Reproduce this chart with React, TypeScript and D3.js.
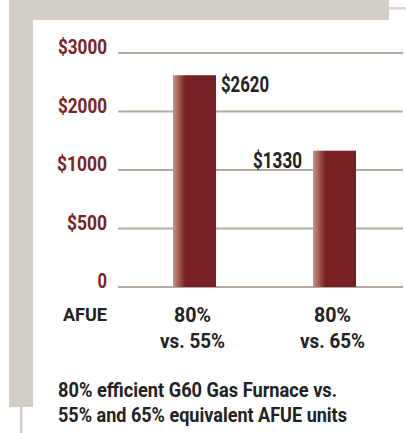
import React from "react";
import * as d3 from "d3";

const categories = ["80% vs. 55%", "80% vs. 65%"];
const categoryLines = [["80%", "vs. 55%"], ["80%", "vs. 65%"]];
const values = [2620, 1330];
const valueLabels = ["$2620", "$1330"];
const labelSides = ["right", "left"];
const tickValues = [0, 500, 1000, 2000, 3000];
const tickLabels = ["0", "$500", "$1000", "$2000", "$3000"];
const axisTitle = "AFUE";
const footerLines = ["80% efficient G60 Gas Furnace vs.", "55% and 65% equivalent AFUE units"];

// rendered widths of the condensed face used in the original (style only)
const TEXT_WIDTH: Record<string, number> = {
  "0": 9.5,
  "$500": 40,
  "$1000": 50,
  "$2000": 49,
  "$3000": 49,
  "$2620": 48,
  "$1330": 49,
  AFUE: 44,
  "80%": 37,
  "vs. 55%": 65,
  "vs. 65%": 65,
  "80% efficient G60 Gas Furnace vs.": 279,
  "55% and 65% equivalent AFUE units": 289,
};

const W = 406;
const H = 433;
const FONT = "Roboto, 'Noto Sans', Arial, sans-serif";
const RED = "#7a2227";
const BAR = "#772024";
const FRAME = "#d3cec8";
const GRID = "#b3aaa2";

function CText(props: {
  x: number;
  y: number;
  anchor?: "start" | "middle" | "end";
  fill: string;
  size: number;
  children: string;
}) {
  const w = TEXT_WIDTH[props.children];
  return (
    <text
      x={props.x}
      y={props.y}
      textAnchor={props.anchor || "start"}
      fill={props.fill}
      fontSize={props.size}
      textLength={w}
      lengthAdjust="spacingAndGlyphs"
    >
      {props.children}
    </text>
  );
}

export default function App() {
  const y0 = 287;
  const step = 58.5;
  const y = d3
    .scaleLinear()
    .domain(tickValues)
    .range(tickValues.map((_, i) => y0 - i * step));
  const x = d3.scalePoint<string>().domain(categories).range([194.5, 334.5]);
  const barW = 43;
  const gridX0 = 118;
  const gridX1 = 403;

  return (
    <svg
      width={W}
      height={H}
      style={{ position: "absolute", left: 0, top: 0, background: "#fff" }}
      fontFamily={FONT}
      fontWeight="bold"
    >
      <defs>
        <linearGradient id="barGrad" x1="0" x2="1" y1="0" y2="0">
          <stop offset="0" stopColor="#c69486" />
          <stop offset="0.12" stopColor="#a86458" />
          <stop offset="0.26" stopColor="#7d2a2b" />
          <stop offset="0.3" stopColor={BAR} />
          <stop offset="1" stopColor={BAR} />
        </linearGradient>
      </defs>
      {/* frame */}
      <rect x={9} y={0} width={380} height={20} fill={FRAME} />
      <rect x={9} y={0} width={24} height={407} fill={FRAME} />
      <rect x={20} y={407} width={2.5} height={H - 407} fill={FRAME} />
      <rect x={389} y={7} width={W - 389} height={2.5} fill="#dcd7d1" />

      {/* gridlines + ticks */}
      {tickValues.map((t, i) => (
        <g key={t}>
          <line x1={gridX0} x2={gridX1} y1={y(t)} y2={y(t)} stroke={GRID} strokeWidth={2} />
          <CText x={107} y={y(t) + 1} anchor="end" fill={RED} size={21}>
            {tickLabels[i]}
          </CText>
        </g>
      ))}

      {/* bars */}
      {categories.map((c, i) => {
        const cx = x(c)!;
        const top = y(values[i]);
        return (
          <g key={c}>
            <rect x={cx - barW / 2} y={top} width={barW} height={y(0) - top} fill="url(#barGrad)" />
            <CText
              x={labelSides[i] === "right" ? cx + barW / 2 + 5 : cx - barW / 2 - 11}
              y={top + 17}
              anchor={labelSides[i] === "right" ? "start" : "end"}
              fill="#222"
              size={22}
            >
              {valueLabels[i]}
            </CText>
            {categoryLines[i].map((ln, j) => (
              <CText key={j} x={cx - 2} y={322 + j * 26} anchor="middle" fill="#222" size={21}>
                {ln}
              </CText>
            ))}
          </g>
        );
      })}

      <CText x={63} y={321} fill="#222" size={18.5}>
        {axisTitle}
      </CText>

      {footerLines.map((ln, i) => (
        <CText key={i} x={58} y={397 + i * 25} fill="#222" size={21}>
          {ln}
        </CText>
      ))}
    </svg>
  );
}
